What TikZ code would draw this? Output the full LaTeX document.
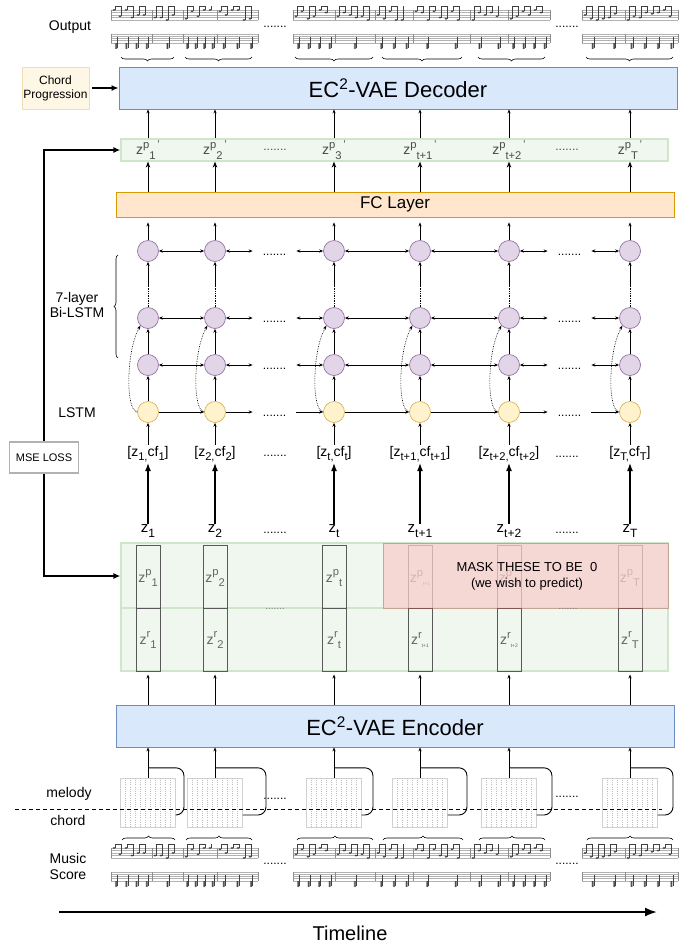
\documentclass[tikz,border=0pt]{standalone}
\usepackage{fontspec}
\setmainfont{Liberation Sans}
\usetikzlibrary{positioning, arrows.meta, calc, decorations.pathreplacing}

\definecolor{decfill}{HTML}{DAE8FC}
\definecolor{decline}{HTML}{6C8EBF}
\definecolor{fcfill}{HTML}{FFE6CC}
\definecolor{fcline}{HTML}{D79B00}
\definecolor{bifill}{HTML}{E1D5E7}
\definecolor{biline}{HTML}{9673A6}
\definecolor{lsfill}{HTML}{FFF2CC}
\definecolor{lsline}{HTML}{D6B656}
\definecolor{grfill}{HTML}{F0F7EE}
\definecolor{grline}{HTML}{D0E6CB}
\definecolor{maskfill}{HTML}{F8CECC}
\definecolor{maskline}{HTML}{B85450}
\definecolor{cpfill}{HTML}{FFF7E6}
\definecolor{cpline}{HTML}{F2DDB3}

\newcommand{\fsz}[1]{\fontsize{#1}{#1}\selectfont}
\newcommand{\lo}[1]{\raisebox{-0.3em}{\scalebox{0.8}{#1}}}
\newcommand{\hi}[1]{\raisebox{0.45em}{\scalebox{0.8}{#1}}}
\newcommand{\tinysub}[1]{{\fsz{5}\raisebox{-3pt}{#1}}}

% one strip of melody + chord staves
\newcommand{\scorestrip}[1]{%
  \pgfmathsetseed{42}%
  \foreach \xa/\xb in {111/152,152/183,183/217,217/258,293/335,335/375,375/413,413/470,470/508,508/550,582/625,625/678}{%
    \foreach \kk in {0,...,4}{%
      \draw[staffline] (\xa,#1+\kk*2.5) -- (\xb,#1+\kk*2.5);
      \draw[staffline] (\xa,#1+24+\kk*2.2) -- (\xb,#1+24+\kk*2.2);
    }
    \draw[barline] (\xa,#1) -- (\xa,#1+10) (\xb,#1) -- (\xb,#1+10);
    \draw[barline] (\xa,#1+24) -- (\xa,#1+32.8) (\xb,#1+24) -- (\xb,#1+32.8);
    \pgfmathtruncatemacro\nn{(\xb-\xa-4)/6}
    \foreach \jj in {1,...,\nn}{%
      \pgfmathsetmacro\nx{\xa+\jj*6-3}
      \pgfmathsetmacro\ny{#1+random(0,8)*1.25}
      \fill[note] (\nx,\ny) ellipse (1.4 and 1);
      \draw[stem] (\nx+1.3,\ny) -- (\nx+1.3,#1-4);
      \ifodd\jj \ifnum\jj<\nn \draw[beam] (\nx+1.3,#1-4) -- (\nx+7.3,#1-4); \fi\fi
    }
    \pgfmathtruncatemacro\nc{random(1,4)}
    \pgfmathsetmacro\dc{(\xb-\xa)/\nc}
    \foreach \jj in {1,...,\nc}{%
      \pgfmathsetmacro\cx{\xa+(\jj-0.5)*\dc}
      \fill[note] (\cx,#1+34) ellipse (1.4 and 1) (\cx,#1+36) ellipse (1.4 and 1) (\cx,#1+38) ellipse (1.4 and 1);
      \draw[stem] (\cx+1.3,#1+38) -- (\cx+1.3,#1+27);
    }
  }%
}

\begin{document}
\begin{tikzpicture}[
  x=1pt, y=-1pt,
  box/.style={draw, line width=0.8pt, inner sep=0pt},
  vae/.style={box, fill=decfill, draw=decline, minimum width=558, minimum height=42, font=\fsz{22}},
  fclayer/.style={box, fill=fcfill, draw=fcline, minimum width=558, minimum height=25, font=\fsz{17}},
  bicell/.style={circle, draw=biline, fill=bifill, line width=0.7pt, minimum size=21, inner sep=0pt},
  lscell/.style={bicell, draw=lsline, fill=lsfill},
  dots/.style={inner xsep=10pt, inner ysep=0pt, text height=8pt, text depth=0pt, font=\fsz{12}},
  lbl/.style={font=\fsz{14}, inner sep=1pt},
  zlbl/.style={font=\fsz{15}, inner sep=1pt},
  inlbl/.style={font=\fsz{14}, inner sep=1pt},
  latlbl/.style={font=\fsz{14}, text=black!60, inner sep=0pt},
  arr/.style={-{Stealth[length=4pt,width=3.2pt]}, line width=0.7pt},
  arrm/.style={-{Stealth[length=6pt,width=4.5pt]}, line width=0.9pt},
  darr/.style={{Stealth[length=4pt,width=3.2pt]}-{Stealth[length=4pt,width=3.2pt]}, line width=0.7pt},
  bigarr/.style={-{Latex[length=8pt,width=6pt]}, line width=1.2pt},
  fbarr/.style={-{Latex[length=7pt,width=6pt]}, line width=1.8pt},
  curv/.style={arr, densely dotted, line width=0.6pt},
  latcol/.style={draw=black!65, line width=1pt, minimum width=24, minimum height=126, inner sep=0pt},
  roll/.style={draw=black!18, line width=0.4pt, minimum width=55, minimum height=49, inner sep=0pt},
  rollgrid/.style={black!25, line width=0.5pt, dash pattern=on 0.8pt off 1.4pt},
  curly/.style={decorate, decoration={brace, amplitude=4pt}, line width=0.6pt},
  staffline/.style={black!30, line width=0.3pt},
  barline/.style={black!45, line width=0.4pt},
  note/.style={black!75},
  stem/.style={black!75, line width=0.35pt},
  beam/.style={black!75, line width=0.9pt}
]
\useasboundingbox (0,0) rectangle (699,946);

% output scores
\scorestrip{10}
\foreach \xa/\xb in {121/174,185/252,295/373,382/462,478/545,586/673}
  \draw[curly] (\xb,57) -- (\xa,57);
\node[font=\fsz{12}] at (275,27) {.......};
\node[font=\fsz{12}] at (567,27) {.......};
\node[lbl] (out) at (70,27) {Output};

% decoder, FC layer
\node[vae] (dec) at (398,88) {EC\textsuperscript{2}-VAE Decoder};
\node[box, fill=cpfill, draw=cpline, minimum width=67, minimum height=42, align=center, font=\fsz{12}] (chord) at (55.5,88) {Chord\\[2pt]Progression};
\draw[fbarr, shorten <=3pt] (chord) -- (dec);
\node[box, fill=grfill, draw=grline, line width=1.2pt, minimum width=547, minimum height=22] (zpbox) at (394.5,150) {};
\node[fclayer] (fc) at (395,204.5) {FC Layer};

% MSE feedback
\coordinate (fb-top) at (44,150);
\coordinate (fb-bot) at (44,576);
\node[box, fill=grfill, draw=grline, line width=1.2pt, minimum width=547, minimum height=128] (latbox) at (394.5,607) {};
\draw[fbarr, {Latex[length=7pt,width=6pt]}-{Latex[length=7pt,width=6pt]}] (zpbox.west) -- (fb-top) -- (fb-bot) -- (fb-bot -| latbox.west);
\node[box, fill=white, draw=black!30, line width=1.5pt, minimum width=69, minimum height=31, font=\fsz{11}] (mse) at (44,457.5) {MSE LOSS};

% columns
\foreach \i/\x/\zs/\ps in {1/148/1/1, 2/215/2/2, 3/334/t/3, 4/420/t+1/t+1, 5/509/t+2/t+2, 6/630/T/T} {
  \node[lbl, text=black!70] (zp-\i) at (\x,150) {z\hi{p}\lo{\ps}\hi{\,'}};
  \draw[arr] (zp-\i |- zpbox.north) -- (zp-\i |- dec.south);
  \draw[arrm] (zp-\i |- fc.north) -- (zp-\i |- zpbox.south);
  \node[bicell] (b1-\i) at (\x,251) {};
  \node[bicell] (b2-\i) at (\x,318) {};
  \node[bicell] (b3-\i) at (\x,365) {};
  \node[lscell] (l-\i) at (\x,412) {};
  \node[inlbl] (in-\i) at (\x,454) {[z\lo{\zs,}cf\lo{\zs}]};
  \node[zlbl] (z-\i) at (\x,531) {z\lo{\zs}};
  \draw[arr] (b1-\i) -- ($(b1-\i |- fc.south)+(0,5)$);
  \draw[densely dotted, line width=0.7pt] (b2-\i.north) -- ++(0,-20) coordinate (m-\i);
  \draw[arr] (m-\i) -- (b1-\i.south);
  \draw[arr] (b3-\i) -- (b2-\i);
  \draw[arr] (l-\i) -- (b3-\i);
  \draw[curv] (l-\i.west) .. controls +(-12,-2) and +(-14,25) .. (b2-\i.south west);
  \draw[arr] (in-\i) -- (l-\i);
  \draw[bigarr] (z-\i) -- (in-\i);
}

% row connections
\foreach \rw in {b1,b2,b3} {
  \node[dots] (\rw-da) at ($(\rw-2)!0.5!(\rw-3)$) {.......};
  \node[dots] (\rw-db) at ($(\rw-5)!0.5!(\rw-6)$) {.......};
  \draw[darr] (\rw-1) -- (\rw-2);
  \draw[darr] (\rw-2) -- (\rw-da);
  \draw[darr] (\rw-da) -- (\rw-3);
  \draw[darr] (\rw-3) -- (\rw-4);
  \draw[darr] (\rw-4) -- (\rw-5);
  \draw[darr] (\rw-5) -- (\rw-db);
  \draw[darr] (\rw-db) -- (\rw-6);
}
\node[dots] (l-da) at ($(l-2)!0.5!(l-3)$) {.......};
\node[dots] (l-db) at ($(l-5)!0.5!(l-6)$) {.......};
\draw[arr] (l-1) -- (l-2);
\draw[arr] (l-2) -- (l-da);
\draw[arr] (l-da) -- (l-3);
\draw[arr] (l-3) -- (l-4);
\draw[arr] (l-4) -- (l-5);
\draw[arr] (l-5) -- (l-db);
\draw[arr] (l-db) -- (l-6);

\node[font=\fsz{12}, text=black!70] at (275,150) {.......};
\node[font=\fsz{12}, text=black!70] at (567,150) {.......};
\node[font=\fsz{12}] at (275,456) {.......};
\node[font=\fsz{12}] at (567,457) {.......};
\node[font=\fsz{12}] at (275,533) {.......};
\node[font=\fsz{12}] at (567,533) {.......};

\draw[curly] (118,358) -- (118,255);
\node[lbl, align=center] (bilabel) at (77,305) {7-layer\\[1pt]Bi-LSTM};
\node[lbl] (lslabel) at (77,413) {LSTM};

% latent codes
\draw[grline, line width=1.2pt] ($(latbox.west)+(0,1)$) -- ($(latbox.east)+(0,1)$);
\foreach \i/\x/\lz in {1/148/\lo{1}, 2/215/\lo{2}, 3/334/\lo{t}, 4/420/\tinysub{t+1}, 5/509/\tinysub{t+2}, 6/630/\lo{T}} {
  \node[latcol] (lat-\i) at (\x,608) {};
  \draw[black!65, line width=1pt] (lat-\i.west) -- (lat-\i.east);
  \node[latlbl] at (\x,578) {z\hi{p}\lz};
  \node[latlbl] at (\x,640) {z\hi{r}\lz};
}
\node[box, fill=maskfill, fill opacity=0.75, draw=maskline, draw opacity=0.45, minimum width=285, minimum height=65] (mask) at (525.5,575.5) {};
\node[align=center, font=\fsz{13}] at (527,576) {MASK THESE TO BE\ \ 0\\[3pt](we wish to predict)};
\node[font=\fsz{10}, text=black!50] at (275,609) {.......};
\node[font=\fsz{10}, text=black!50] at (568,609) {.......};

% encoder and inputs
\node[vae] (enc) at (395,726) {EC\textsuperscript{2}-VAE Encoder};
\foreach \i/\x/\bx in {1/148/184, 2/215/266, 3/334/373, 4/420/467, 5/509/552, 6/630/673} {
  \draw[arr] (lat-\i |- enc.north) -- ($(lat-\i.south)+(0,3)$);
  \node[roll] (roll-\i) at (\x,802.5) {};
  \foreach \kk in {1,...,10}
    \draw[rollgrid] ($(roll-\i.north west)+(\kk*5,0)$) -- ($(roll-\i.south west)+(\kk*5,0)$);
  \draw[arr] (roll-\i.north) -- (roll-\i |- enc.south);
  \draw[line width=0.9pt, rounded corners=8pt] ($(roll-\i.north)+(0,-10)$) -| (\bx,815) -- ($(roll-\i.east)+(0,12.5)$);
}
\node[font=\fsz{12}] at (275,799) {.......};
\node[font=\fsz{12}] at (567,797) {.......};
\draw[line width=0.8pt, dash pattern=on 4pt off 3pt] (15,809) -- (662,809);
\node[lbl] (mel) at (69,794) {melody};
\node[lbl] (chd) at (68,820) {chord};

% music score
\foreach \xa/\xb in {122/175,186/252,297/373,383/463,479/545,587/673}
  \draw[curly] (\xa,840) -- (\xb,840);
\scorestrip{848}
\node[font=\fsz{12}] at (275,864) {.......};
\node[font=\fsz{12}] at (567,864) {.......};
\node[lbl, align=center] (score) at (68,866) {Music\\[2pt]Score};

% timeline
\coordinate (tl-s) at (59,912);
\coordinate (tl-e) at (657,912);
\draw[line width=2pt, -{Latex[length=12pt,width=9pt]}] (tl-s) -- (tl-e);
\node[font=\fsz{20}] (tl) at (350,933) {Timeline};
\end{tikzpicture}
\end{document}
